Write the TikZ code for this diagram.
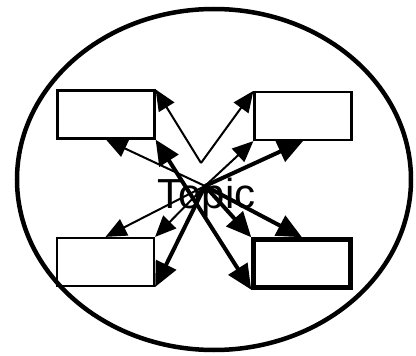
\documentclass[tikz,border=0pt]{standalone}
\usepackage{fontspec}
\setmainfont{Liberation Sans}
\usetikzlibrary{arrows.meta}

\begin{document}
\begin{tikzpicture}[x=1pt, y=-1pt,
  caixa/.style={draw, line width=2.2pt, minimum width=97pt, minimum height=48pt, inner sep=0pt},
  fina/.style={line width=2pt, -{Triangle[length=21pt,width=18pt]}},
  grossa/.style={line width=4pt, -{Triangle[length=25pt,width=22pt]}}]
  \useasboundingbox (0,0) rectangle (416,356);
  % elipse
  \draw[line width=4.5pt] (214,179.5) ellipse (197 and 170.5);
  % caixas
  \node[caixa] (tl) at (106,114.5) {};
  \node[caixa] (tr) at (303,116) {};
  \node[caixa] (bl) at (105.5,262) {};
  \node[caixa, line width=4.5pt] (br) at (302,263.5) {};
  % setas
  \coordinate (v) at (201,163);
  \coordinate (c) at (205,186);
  \draw[fina] (v) -- (tl.north east);
  \draw[fina] (v) -- (tr.north west);
  \foreach \b in {tl.south, tr.south west, bl.north, bl.north east}
    \draw[fina] (c) -- (\b);
  \foreach \b in {tr.south, bl.south east, br.north west, br.north}
    \draw[grossa] (c) -- (\b);
  \draw[grossa, {Triangle[length=25pt,width=22pt]}-{Triangle[length=25pt,width=22pt]}] (tl.south east) -- (br.south west);
  % texto
  \node[font=\fontsize{42}{42}\selectfont, anchor=base, inner sep=0pt] (topico) at (206.5,208) {Topic};
\end{tikzpicture}
\end{document}
